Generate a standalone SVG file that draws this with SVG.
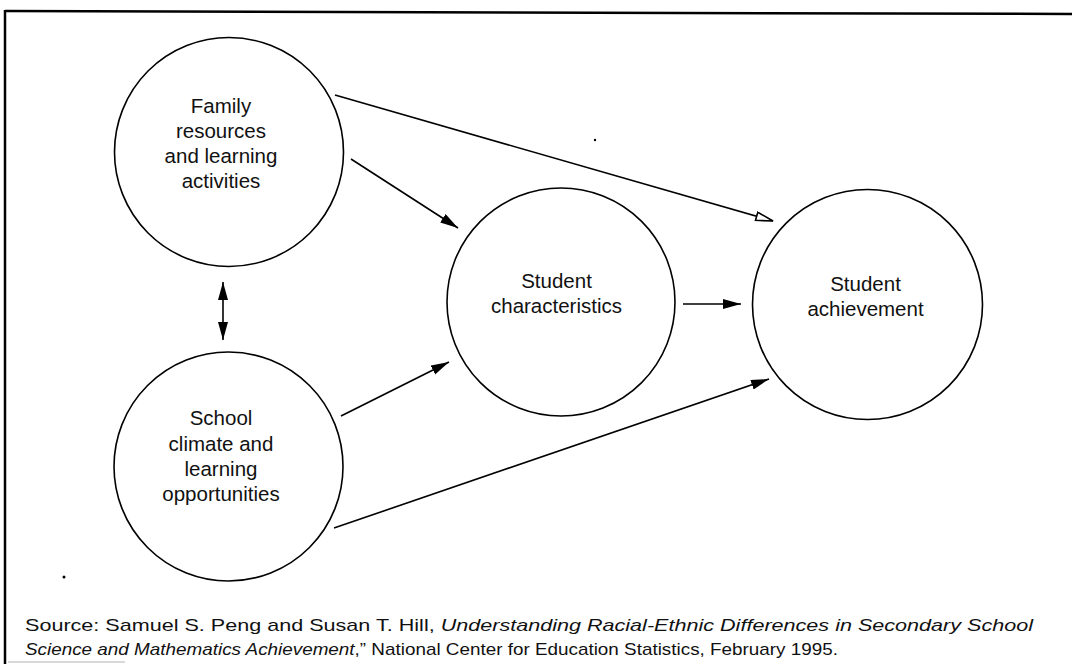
<svg xmlns="http://www.w3.org/2000/svg" width="1072" height="664" viewBox="0 0 1072 664">
<style>
.node circle{fill:#fff;stroke:#000;stroke-width:1.6}
.lbl{font-family:"Liberation Sans",Arial,sans-serif;font-size:20.5px;fill:#111;text-anchor:middle}
.edge{stroke:#000;stroke-width:1.6;fill:none}
.src{font-family:"Liberation Sans",Arial,sans-serif;font-size:17px;fill:#111}
</style>
<defs>
<marker id="ah" markerUnits="userSpaceOnUse" markerWidth="20" markerHeight="12" refX="18" refY="5" orient="auto">
<path d="M0,0 L18,5 L0,10 z" fill="#000"/>
</marker>
<marker id="ahs" markerUnits="userSpaceOnUse" markerWidth="20" markerHeight="12" refX="18" refY="5" orient="auto-start-reverse">
<path d="M0,0 L18,5 L0,10 z" fill="#000"/>
</marker>
<marker id="aho" markerUnits="userSpaceOnUse" markerWidth="20" markerHeight="12" refX="18" refY="5" orient="auto">
<path d="M1,0.8 L18,5 L1,9.2 z" fill="#fff" stroke="#000" stroke-width="1.6"/>
</marker>
</defs>
<rect width="1072" height="664" fill="#fff"/>
<g id="frame">
<path d="M5,11 L1072,14" stroke="#000" stroke-width="2.5"/>
<path d="M5,10 L5,664" stroke="#000" stroke-width="2.5"/>
<path d="M8,662 L125,662" stroke="#ccc" stroke-width="1.5"/>
</g>
<g id="connectors">
<path class="edge" d="M335,95 L773,221" marker-end="url(#aho)"/>
<path class="edge" d="M351,159 L458,228" marker-end="url(#ah)"/>
<path class="edge" d="M341,416 L449,362" marker-end="url(#ah)"/>
<path class="edge" d="M334,528 L769,379" marker-end="url(#ah)"/>
<path class="edge" d="M683,304 L741,304" marker-end="url(#ah)"/>
<path class="edge" d="M223,282 L223,340" marker-start="url(#ahs)" marker-end="url(#ah)"/>
</g>
<g id="family" class="node">
<circle cx="229" cy="152" r="114.5"/>
<text class="lbl" x="221" y="113">Family</text>
<text class="lbl" x="221" y="138">resources</text>
<text class="lbl" x="221" y="163">and learning</text>
<text class="lbl" x="221" y="188">activities</text>
</g>
<g id="school" class="node">
<circle cx="228.5" cy="466.5" r="114.5"/>
<text class="lbl" x="221" y="425">School</text>
<text class="lbl" x="221" y="451">climate and</text>
<text class="lbl" x="221" y="476">learning</text>
<text class="lbl" x="221" y="501">opportunities</text>
</g>
<g id="characteristics" class="node">
<circle cx="561" cy="302" r="114"/>
<text class="lbl" x="556.5" y="288">Student</text>
<text class="lbl" x="556.5" y="313">characteristics</text>
</g>
<g id="achievement" class="node">
<circle cx="867.5" cy="304.5" r="115"/>
<text class="lbl" x="865.5" y="291">Student</text>
<text class="lbl" x="865.5" y="316">achievement</text>
</g>
<g id="specks">
<circle cx="595" cy="140" r="1.2" fill="#000"/>
<circle cx="64" cy="577" r="1.5" fill="#000"/>
</g>
<g id="source">
<text class="src" x="25" y="631" textLength="1008" lengthAdjust="spacingAndGlyphs">Source: Samuel S. Peng and Susan T. Hill, <tspan font-style="italic">Understanding Racial-Ethnic Differences in Secondary School</tspan></text>
<text class="src" x="25" y="655" textLength="813" lengthAdjust="spacingAndGlyphs"><tspan font-style="italic">Science and Mathematics Achievement</tspan>,” National Center for Education Statistics, February 1995.</text>
</g>
</svg>
